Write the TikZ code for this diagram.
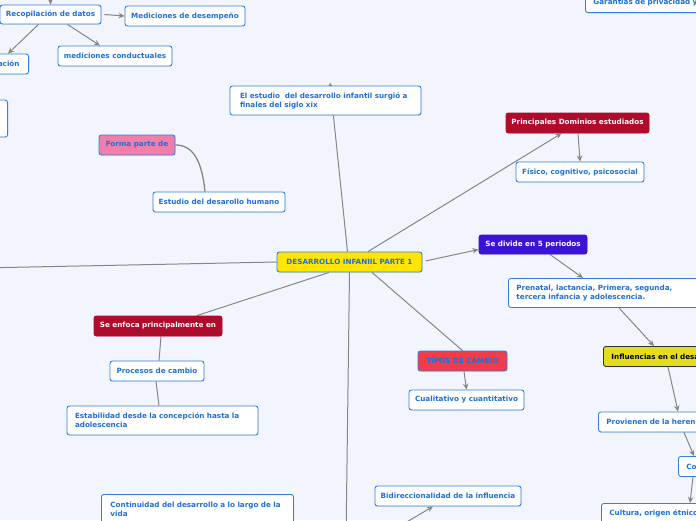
\documentclass[tikz,border=0pt]{standalone}
\usepackage{fontspec}
\setmainfont{DejaVu Sans}
\usepackage{tikz}
\usetikzlibrary{arrows.meta, positioning, shadows}

\definecolor{bgcol}{HTML}{F2F5FD}
\definecolor{nodeblue}{HTML}{2F80E0}
\definecolor{textblue}{HTML}{1F6FD9}
\definecolor{linegray}{HTML}{868686}
\definecolor{mainyellow}{HTML}{FFE500}
\definecolor{inflyellow}{HTML}{E5DC1E}
\definecolor{formapink}{HTML}{F07EA8}
\definecolor{darkred}{HTML}{B00B2B}
\definecolor{divpurple}{HTML}{3A12D8}
\definecolor{tiposred}{HTML}{F23C4A}

\pgfdeclarelayer{background}
\pgfsetlayers{background,main}

\newcommand{\mapfont}{\fontsize{7.2}{9}\selectfont\bfseries}

\tikzset{
    topic/.style={draw=nodeblue, fill=white, text=textblue, font=\mapfont,
        line width=0.9pt, rounded corners=2.5pt, inner sep=0pt,
        minimum height=20pt,
        drop shadow={opacity=0.12, shadow xshift=0.6pt, shadow yshift=-0.9pt}},
    redtopic/.style={topic, fill=darkred, draw=darkred, text=white},
    link/.style={draw=linegray, line width=1pt, -{Stealth[length=6pt, width=5.5pt]}},
    plain/.style={draw=linegray, line width=1pt}
}

\begin{document}
\begin{tikzpicture}[x=1pt, y=-1pt, >=Stealth]
    \useasboundingbox (0,0) rectangle (696,520);
    \clip (0,0) rectangle (696,520);

    % Central topic
    \node[topic, fill=mainyellow, minimum width=145pt] (main) at (349.5,262) {DESARROLLO INFANIIL PARTE 1};

    % Upper left branch
    \coordinate (recopin) at (50,-20);
    \node[topic, minimum width=101pt, minimum height=19pt] (recop) at (50.5,14.5) {Recopilación de datos};
    \node[topic, minimum width=120pt] (desemp) at (185,16) {Mediciones de desempeño};
    \node[topic, anchor=east, inner xsep=9pt] (observ) at (29,64) {Observación};
    \node[topic, minimum width=114pt] (conduct) at (115,56) {mediciones conductuales};
    \node[topic, anchor=east, minimum width=100pt, minimum height=37pt] (hidden) at (8,118.5) {};

    % Upper middle
    \node[topic, align=left, text width=171pt, inner xsep=10pt, minimum height=29pt] (estudio) at (325.5,100.5)
        {El estudio~ del desarrollo infantil surgió a\\finales del siglo xix};
    \node[topic, fill=formapink, minimum width=76pt] (forma) at (137,145) {Forma parte de};
    \node[topic, minimum width=132pt] (humano) at (219,202) {Estudio del desarollo humano};

    % Right side
    \node[topic, anchor=south west, align=left, text width=150pt, inner xsep=8pt] (garant) at (585,13) {Garantías de privacidad y};
    \node[redtopic, minimum width=143pt] (dominios) at (577.5,123) {Principales Dominios estudiados};
    \node[topic, minimum width=128pt] (fisico) at (580,172) {Físico, cognitivo, psicosocial};
    \node[topic, fill=divpurple, draw=divpurple, text=white, minimum width=108pt, minimum height=19pt] (divide) at (533,244.5) {Se divide en 5 periodos};
    \node[topic, anchor=north west, align=left, text width=190pt, inner xsep=8pt, minimum height=29pt] (prenatal) at (508,278)
        {Prenatal, lactancia, Primera, segunda,\\tercera infancia y adolescencia.};
    \node[topic, fill=inflyellow, draw=black!80, text=black, anchor=north west, align=left, text width=120pt, inner xsep=8pt] (influ) at (603,346) {Influencias en el desarrollo};
    \node[topic, anchor=north west, align=left, text width=120pt, inner xsep=8pt] (proven) at (598,411.5) {Provienen de la herencia};
    \node[topic, anchor=north west, align=left, text width=60pt, inner xsep=8pt] (contexto) at (678,456) {Contexto};
    \node[topic, anchor=north west, align=left, text width=130pt, inner xsep=8pt] (cultura) at (601,503) {Cultura, origen étnico,};

    % Lower middle
    \node[topic, fill=tiposred, minimum width=89pt] (tipos) at (462.5,361) {TIPOS DE CAMBIO};
    \node[topic, minimum width=115pt] (cualit) at (466.5,400) {Cualitativo y cuantitativo};
    \coordinate (bidirin) at (400,526);
    \node[topic, minimum width=146pt] (bidir) at (448,496) {Bidireccionalidad de la influencia};
    \coordinate (downend) at (346,540);

    % Lower left
    \node[redtopic, minimum width=128pt] (enfoca) at (158,326) {Se enfoca principalmente en};
    \node[topic, minimum width=94pt] (procesos) at (157,371) {Procesos de cambio};
    \node[topic, align=left, text width=175pt, inner xsep=8pt, minimum height=29pt] (estab) at (162.5,420.5)
        {Estabilidad desde la concepción hasta la\\adolescencia};
    \node[topic, anchor=north west, align=left, text width=174pt, inner xsep=9pt, minimum height=29pt] (contin) at (101,494)
        {Continuidad del desarrollo a lo largo de la\\vida};
    \coordinate (leftend) at (-20,268);

    % Connectors
    \begin{pgfonlayer}{background}
        \fill[bgcol] (0,0) rectangle (696,520);
        \draw[link] (recopin) -- (recop.north);
        \draw[link] ([xshift=3pt]recop.east) -- (desemp.west);
        \draw[link] ([xshift=-12pt]recop.south) -- ([xshift=-21pt]observ.north east);
        \draw[link] ([xshift=17pt]recop.south) -- ([xshift=-15pt]conduct.north);
        \draw[link] ([xshift=-2pt]main.north) -- ([xshift=4.5pt, yshift=3pt]estudio.north);
        \draw[plain, line width=1.3pt] (forma.east) .. controls +(18,0) and +(-3,-30) .. ([xshift=-14pt]humano.north);
        \draw[link] ([xshift=18.5pt]main.north) -- ([xshift=-16pt]dominios.south);
        \draw[link] ([xshift=0.5pt]dominios.south) -- (fisico.north);
        \draw[link] ([xshift=3pt, yshift=1pt]main.east) -- ([yshift=-5pt]divide.west);
        \draw[link] ([xshift=17pt]divide.south) -- ([xshift=75pt]prenatal.north west);
        \draw[link] ([xshift=111pt]prenatal.south west) -- ([xshift=51pt]influ.north west);
        \draw[link] ([xshift=65pt]influ.south west) -- ([xshift=80pt]proven.north west);
        \draw[link] ([xshift=86pt]proven.south west) -- ([xshift=16pt]contexto.north west);
        \draw[link] ([xshift=15pt]contexto.south west) -- ([xshift=89pt]cultura.north west);
        \draw[plain] ([xshift=22.5pt]main.south) -- (tipos.north);
        \draw[link] ([xshift=1.5pt]tipos.south) -- (cualit.north);
        \draw[link] (bidirin) -- ([xshift=-15pt]bidir.south);
        \draw[plain] (main.south) -- (downend);
        \draw[plain] ([xshift=-20.5pt]main.south) -- ([xshift=39pt]enfoca.north);
        \draw[plain] ([xshift=3pt]enfoca.south) -- ([xshift=2pt]procesos.north);
        \draw[plain] ([xshift=-1pt]procesos.south) -- ([xshift=-3.5pt]estab.north);
        \draw[plain] (main.west) -- (leftend);
    \end{pgfonlayer}
\end{tikzpicture}
\end{document}
